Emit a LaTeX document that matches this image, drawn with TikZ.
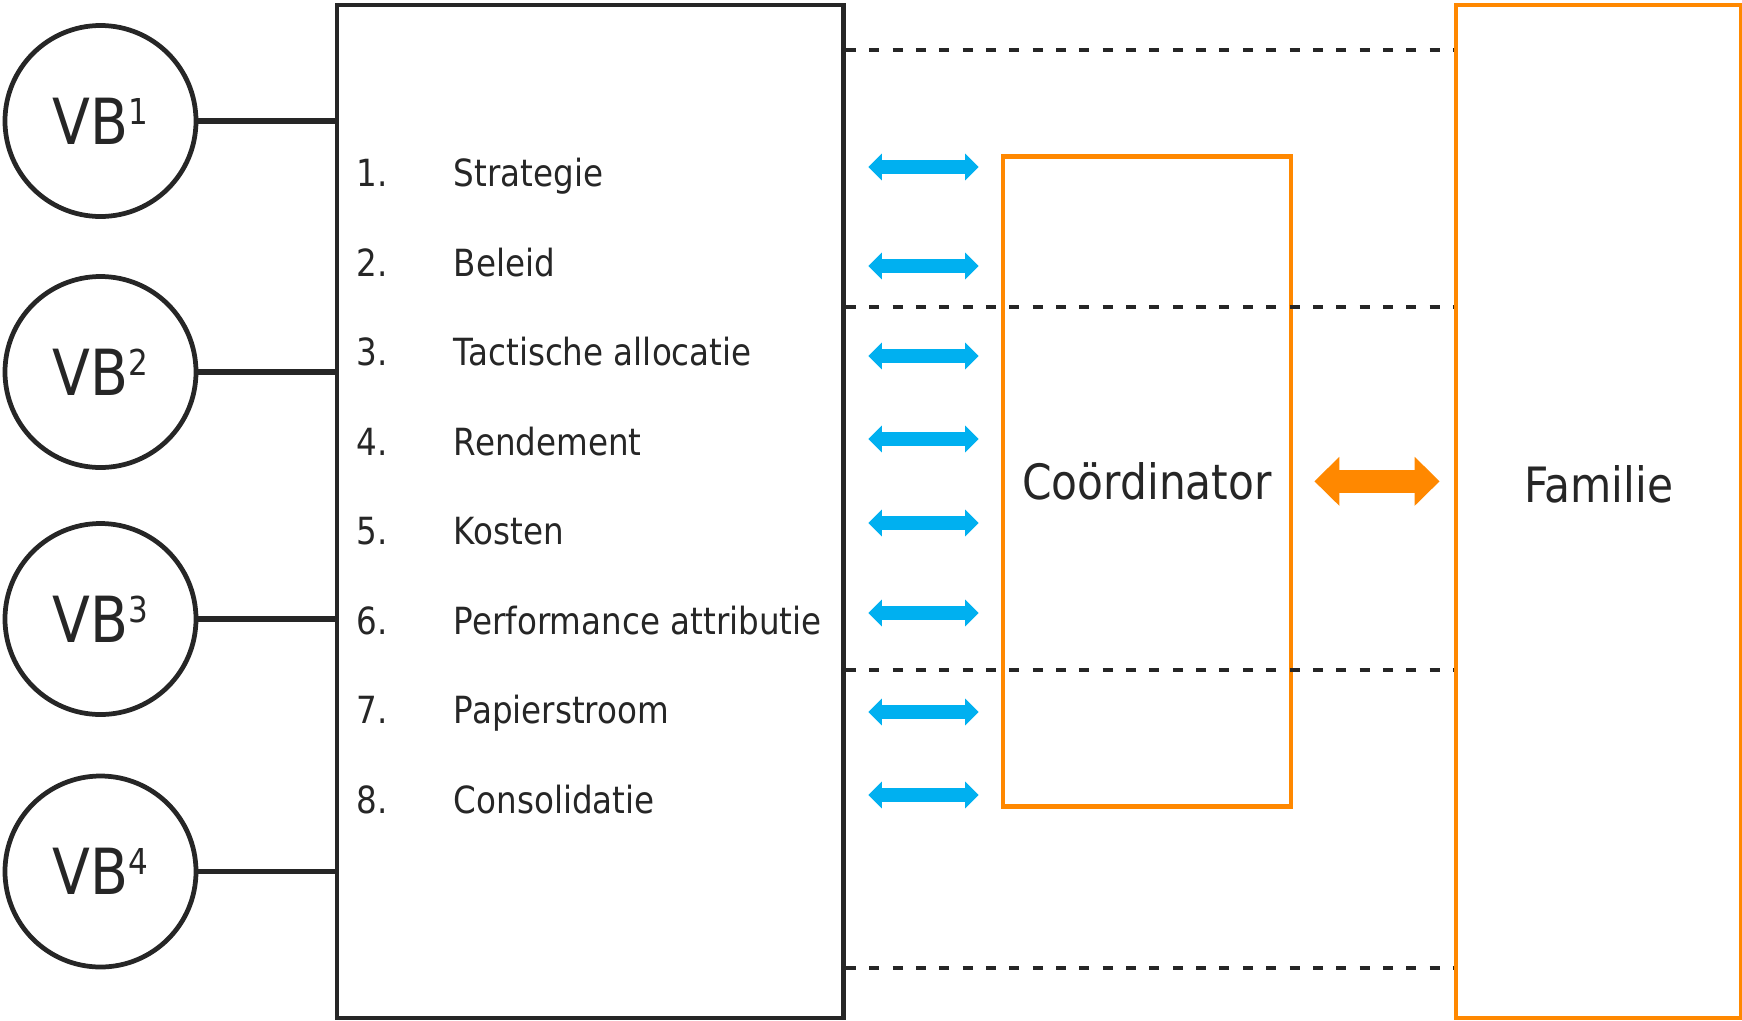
\documentclass[tikz,border=0pt]{standalone}
\usepackage{fontspec}
\setmainfont{DejaVu Sans}[FakeStretch=0.87]
\usetikzlibrary{arrows.meta}
\definecolor{ink}{HTML}{262626}
\definecolor{accent}{HTML}{FF8800}
\definecolor{sky}{HTML}{00B0F0}
\newcommand{\vbsup}[1]{VB\raisebox{0.4cm}{\fontsize{20.3}{24}\selectfont #1}}
\tikzset{
  vb/.style={circle, draw=ink, line width=0.095cm, minimum size=3.82cm, inner sep=0pt, text=ink, font=\fontsize{36.2}{40}\selectfont},
  bigbox/.style={draw=ink, line width=0.095cm, inner sep=0pt},
  orangebox/.style={draw=accent, line width=0.095cm, inner sep=0pt},
  boxtext/.style={text=ink, font=\fontsize{27.7}{32}\selectfont},
  item/.style={text=ink, inner sep=0pt, anchor=base west, font=\fontsize{21.3}{25}\selectfont},
  link/.style={draw=ink, line width=0.105cm},
  dashline/.style={draw=ink, line width=0.078cm, dash pattern=on 0.2cm off 0.267cm},
  flow/.style={draw=sky, line width=0.27cm, {Triangle[width=0.52cm,length=0.27cm]}-{Triangle[width=0.52cm,length=0.27cm]}, shorten <=0.45cm, shorten >=0.44cm},
  bigflow/.style={draw=accent, line width=0.47cm, {Triangle[width=0.95cm,length=0.5cm]}-{Triangle[width=0.95cm,length=0.5cm]}, shorten <=0.42cm, shorten >=0.28cm}
}
\begin{document}
\begin{tikzpicture}
  \def\Xvb{2.01}
  \def\Xnum{7.12}
  \def\Xtxt{9.07}
  \def\Ytop{-3.73}
  \def\Ystep{1.79}
  \useasboundingbox (0,0) rectangle (34.84,-20.4);

  % boxes
  \node[bigbox, minimum width=10.13cm, minimum height=20.26cm] (main) at (11.805,-10.23) {};
  \node[orangebox, boxtext, minimum width=5.76cm, minimum height=13.0cm] (coord) at (22.94,-9.626) {Coördinator};
  \node[orangebox, minimum width=5.71cm, minimum height=20.26cm] (fam) at (31.975,-10.23) {};
  \node[boxtext] (famtext) at (fam.center |- 0,-9.68) {Familie};

  % circles
  \foreach \y [count=\i] in {-2.42,-7.44,-12.38,-17.43} {
    \node[vb] (vb\i) at (\Xvb,\y) {\vbsup{\i}};
    \draw[link] (vb\i) -- (vb\i -| main.west);
  }

  % items
  \foreach \txt [count=\i] in {Strategie, Beleid, Tactische allocatie, Rendement, Kosten, Performance attributie, Papierstroom, Consolidatie} {
    \node[item] (num\i) at (\Xnum, {\Ytop-\Ystep*(\i-1)}) {\i.};
    \node[item] (txt\i) at (\Xtxt, {\Ytop-\Ystep*(\i-1)}) {\txt};
  }

  % dashed lines
  \foreach \y [count=\i] in {-1.0,-6.14,-13.4,-19.36} {
    \coordinate (d\i) at (0,\y);
    \draw[dashline] (d\i -| main.east) -- (d\i -| fam.west);
  }

  % arrows
  \foreach \y [count=\i] in {-3.34,-5.32,-7.12,-8.78,-10.46,-12.26,-14.24,-15.9} {
    \coordinate (a\i) at (0,\y);
    \draw[flow] (a\i -| main.east) -- (a\i -| coord.west);
  }
  \draw[bigflow] (coord.east) -- (coord.east -| fam.west);

\end{tikzpicture}
\end{document}
